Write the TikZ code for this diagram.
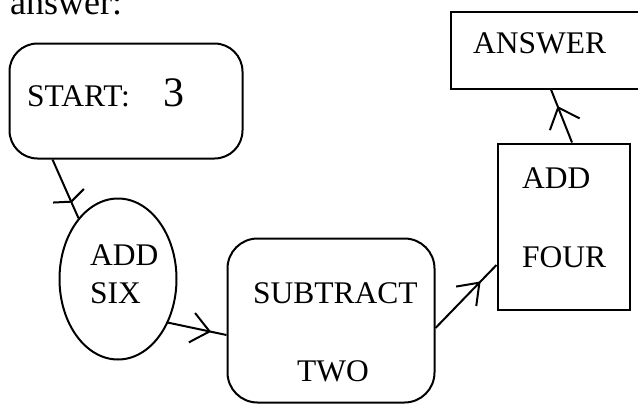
\documentclass[tikz,border=0pt]{standalone}
\usepackage{fontspec}
\setmainfont{Liberation Serif}
\usetikzlibrary{shapes.geometric,decorations.markings}
\tikzset{
  box/.style={draw,line width=2pt,inner sep=0pt},
  rbox/.style={box,rounded corners=28pt},
  oval/.style={draw,ellipse,line width=2pt,inner sep=0pt},
  lbl/.style={anchor=base west,inner sep=0pt,font=\fontsize{31.5}{31.5}\selectfont},
  conn/.style={line width=2pt},
  vmark/.style n args={3}{postaction={decorate},decoration={markings,
     mark=at position #1 with {\draw[line width=2pt,line join=miter] (-#2,#3)--(0pt,0pt)--(-#2,-#3);}}}
}
\begin{document}
\begin{tikzpicture}[x=1pt,y=-1pt]
\useasboundingbox (0,0) rectangle (638,405);
\clip (0,0) rectangle (638,405);
% boxes
\node[rbox,minimum width=233pt,minimum height=115pt] (start) at (126,101) {};
\node[oval,minimum width=117pt,minimum height=161pt] (six) at (118,279) {};
\node[rbox,rounded corners=30pt,minimum width=207pt,minimum height=164pt] (sub) at (331,320.5) {};
\node[box,minimum width=132pt,minimum height=166pt] (four) at (563.5,226.5) {};
\node[box,minimum width=194pt,minimum height=77pt] (ans) at (548,50) {};
% texts
\node[lbl,font=\fontsize{36}{36}\selectfont] (ttl) at (10,14) {answer:};
\node[lbl] (tstart) at (27,106) {START:};
\node[lbl,font=\fontsize{42}{42}\selectfont] (tthree) at (163,106) {3};
\node[lbl] (tadd1) at (90,265) {ADD};
\node[lbl] (tsix) at (90,303) {SIX};
\node[lbl] (tsub) at (253,303) {SUBTRACT};
\node[lbl] (ttwo) at (297,381) {TWO};
\node[lbl] (tadd2) at (522,188) {ADD};
\node[lbl] (tfour) at (522,267) {FOUR};
\node[lbl] (tans) at (473,53) {ANSWER};
% connectors
\draw[conn,vmark={0.72}{6.5pt}{16.8pt}] ([xshift=44pt]start.south west) -- (six.123);
\draw[conn,vmark={0.71}{18pt}{15pt}] (six.-41) -- ([yshift=-14.5pt]sub.west);
\draw[conn,vmark={0.72}{19pt}{14pt}] ([yshift=-7.5pt]sub.east) -- ([yshift=-38.5pt]four.west);
\draw[conn,vmark={0.66}{18pt}{16pt}] ([xshift=8.5pt]four.north) -- ([xshift=3pt]ans.south);
\end{tikzpicture}
\end{document}
